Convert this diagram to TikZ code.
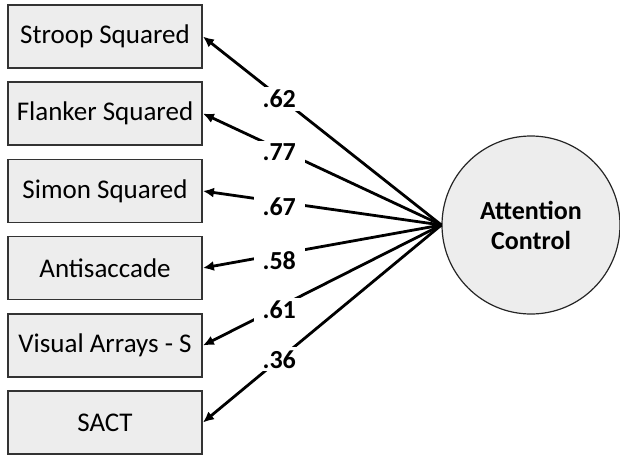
\documentclass[tikz,border=0pt]{standalone}
\usepackage{fontspec}
\setmainfont{Carlito}
\usetikzlibrary{arrows.meta}

\tikzset{
  measure/.style={draw=black!80, line width=1.8pt, fill=black!7,
    minimum width=194pt, minimum height=63pt, inner sep=0pt,
    font=\fontsize{27}{30}\selectfont},
  factor/.style={draw=black!85, line width=1.2pt, fill=black!7, circle,
    minimum size=178pt, inner sep=0pt, align=center,
    font=\fontsize{26}{30}\selectfont\bfseries},
  loading/.style={line width=2.8pt, -{Latex[length=11pt,width=10pt]}},
  weight/.style={fill=white, inner xsep=9pt, inner ysep=3pt, pos=0.68,
    font=\fontsize{26}{28}\selectfont\bfseries}
}

\begin{document}
\begin{tikzpicture}[x=1pt, y=-1pt]
\useasboundingbox (0,0) rectangle (620,455);
%\draw[red] (0,0) rectangle (620,455);
\node[measure] (stroop)  at (105, 36.5)  {Stroop Squared};
\node[measure] (flanker) at (105, 113.5) {Flanker Squared};
\node[measure] (simon)   at (105, 191)   {Simon Squared};
\node[measure] (anti)    at (105, 268)   {Antisaccade};
\node[measure] (visual)  at (105, 345.5) {Visual Arrays - S};
\node[measure] (sact)    at (105, 422.5) {SACT};
\node[factor]  (ac)      at (531, 225)   {Attention\\Control};
\draw[loading] (ac.west) -- (stroop.east)  node[weight, yshift=-2pt] (w1) {.62};
\draw[loading] (ac.west) -- (flanker.east) node[weight, yshift=-3pt] (w2) {.77};
\draw[loading] (ac.west) -- (simon.east)   node[weight, yshift=-5pt] (w3) {.67};
\draw[loading] (ac.west) -- (anti.east)    node[weight, yshift=-6pt] (w4) {.58};
\draw[loading] (ac.west) -- (visual.east)  node[weight, yshift=-3pt] (w5) {.61};
\draw[loading] (ac.west) -- (sact.east)    node[weight] (w6) {.36};
\end{tikzpicture}
\end{document}
